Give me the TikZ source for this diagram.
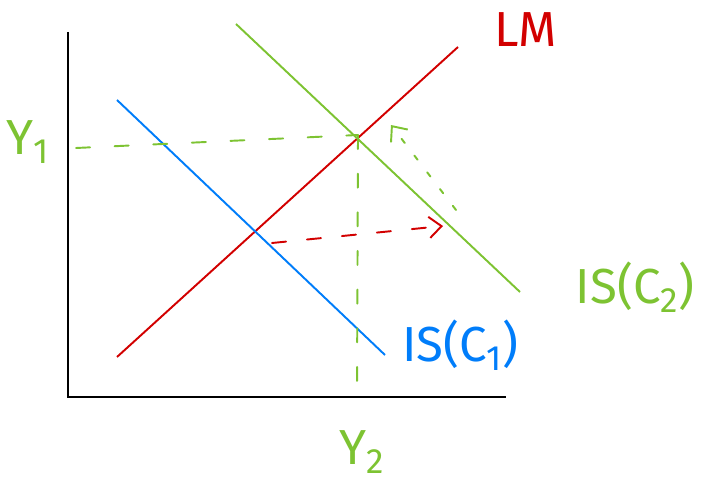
\documentclass[tikz,border=0pt]{standalone}
\usepackage{fontspec}
\setmainfont{Fira Sans}
\usetikzlibrary{arrows.meta,positioning,calc}
\definecolor{lmred}{RGB}{210,0,0}
\definecolor{isblue}{RGB}{0,125,250}
\definecolor{isgreen}{RGB}{125,195,50}
\newcommand{\lowsub}[1]{\raisebox{-0.35ex}{\fontsize{20}{20}\selectfont #1}}
\begin{document}
\begin{tikzpicture}[
  x=0.02cm, y=-0.02cm,
  axis/.style={line width=1.4pt, black},
  curve/.style={line width=1.1pt},
  guide/.style={line width=1.1pt, line cap=round, dash pattern=on 8pt off 14pt},
  arr/.style={-{Straight Barb[length=7pt,width=12pt]}, line width=1.1pt, line cap=round},
  lab/.style={font=\fontsize{28}{28}\selectfont, inner sep=0pt}
]
\useasboundingbox (0,0) rectangle (713,482);

% ===== AXES =====
\coordinate (origin) at (68,397);
\coordinate (ytop) at (68,32);
\coordinate (xend) at (506,397);
\draw[axis] (ytop) -- (origin) -- (xend);

% ===== CURVES =====
\coordinate (lm_a) at (117,357);
\coordinate (lm_b) at (458,47);
\coordinate (is1_a) at (117,100);
\coordinate (is1_b) at (385,355);
\coordinate (is2_a) at (236,24);
\coordinate (is2_b) at (520,292);
\draw[curve, lmred] (lm_a) -- (lm_b);
\draw[curve, isblue] (is1_a) -- (is1_b);
\draw[curve, isgreen] (is2_a) -- (is2_b);

% ===== LABELS =====
\node[lab, lmred] (lm_lab) at (526,30) {LM};
\node[lab, isblue] (is1_lab) at (460,345) {IS(C\lowsub{1})};
\node[lab, isgreen] (is2_lab) at (635,287) {IS(C\lowsub{2})};
\node[lab, isgreen] (y1_lab) at (28,142) {Y\lowsub{1}};
\node[lab, isgreen] (y2_lab) at (362,452) {Y\lowsub{2}};

% ===== GUIDES =====
\coordinate (eq2) at (358,135);
\coordinate (y1_end) at (76,148);
\coordinate (y2_end) at (357,392);
\draw[guide, isgreen] (y1_end) -- (eq2);
\draw[guide, isgreen] (eq2) -- (y2_end);

% ===== SHIFTS =====
\coordinate (eq1) at (272,243);
\coordinate (shift_end) at (443,226);
\draw[arr, lmred, dash pattern=on 8pt off 12pt] (eq1) -- (shift_end);
\coordinate (back_start) at (456,210);
\coordinate (back_end) at (391,125);
\draw[arr, isgreen, dash pattern=on 3pt off 9pt] (back_start) -- (back_end);

\end{tikzpicture}
\end{document}
